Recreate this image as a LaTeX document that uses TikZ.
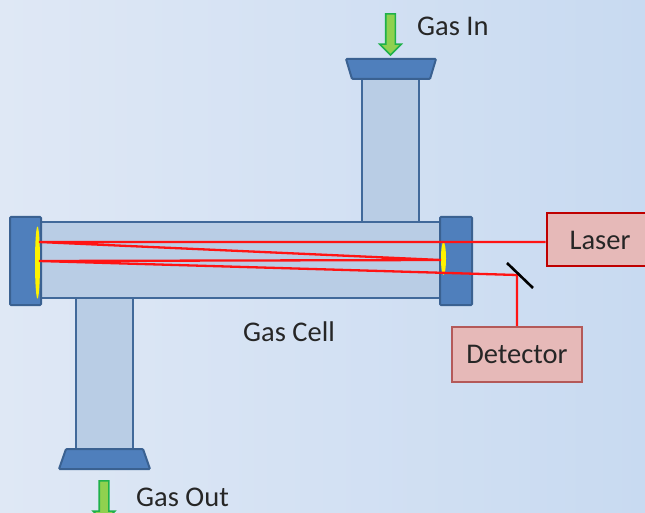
\documentclass[tikz,border=0pt]{standalone}
\usepackage{fontspec}
\setmainfont{Carlito}
\usetikzlibrary{shapes.geometric,shapes.arrows}
\definecolor{tubefill}{HTML}{B9CDE5}
\definecolor{tubeline}{HTML}{41699A}
\definecolor{flangefill}{HTML}{4F7FBC}
\definecolor{flangeline}{HTML}{3A6191}
\definecolor{boxfill}{HTML}{E6B9B8}
\definecolor{bgleft}{HTML}{DFE8F5}
\definecolor{bgright}{HTML}{C8DAF1}
\definecolor{flowfill}{HTML}{8FD14F}
\definecolor{flowline}{HTML}{1FB14A}
\begin{document}
\begin{tikzpicture}[x=1pt,y=-1pt,
	box/.style={rectangle,inner sep=0pt,line width=2pt,minimum width=#1},
	tube/.style={box=#1,draw=tubeline,fill=tubefill},
	flange/.style={box=#1,draw=flangeline,fill=flangefill,rounded corners=1pt},
	lip/.style={draw=flangeline,fill=flangefill,line width=2pt,rounded corners=1pt},
	mirror/.style={ellipse,inner sep=0pt,fill=yellow,minimum width=5pt},
	beam/.style={draw=red!92!white,line width=2.3pt},
	label/.style={font=\fontsize{28.5}{32}\selectfont,text=black!85,inner sep=0pt},
	flow/.style={single arrow,inner sep=0pt,text height=8pt,text depth=0pt,draw=flowline,fill=flowfill,line width=1.6pt,minimum width=20pt,minimum height=41pt,single arrow head extend=6pt,single arrow tip angle=90,rotate=-90}
]
\path[use as bounding box,clip] (0,0) rectangle (645,513);
\fill[left color=bgleft,right color=bgright] (0,0) rectangle (645,513);

\node[tube=57pt,minimum height=145pt] (tubein) at (390.5,150) {};
\node[tube=57pt,minimum height=154pt] (tubeout) at (104.5,374) {};
\node[tube=404pt,minimum height=76pt] (cell) at (240,260) {};
\node[flange=31pt,minimum height=88pt] (flangeL) at (25.5,261) {};
\node[flange=32pt,minimum height=88pt] (flangeR) at (456,261) {};
\draw[lip] (346,59) -- (436,59) -- (430,79) -- (352,79) -- cycle;
\draw[lip] (66,449) -- (143,449) -- (150,469) -- (59,469) -- cycle;
\node[mirror,minimum height=72pt] (mirrorL) at (37.5,262.5) {};
\node[mirror,minimum height=33pt] (mirrorR) at (443.5,258.5) {};

\node[box=106pt,line width=2.6pt,draw=red!75!black,fill=boxfill,minimum height=53pt] (laser) at (600,239.5) {};
\node[label] at (600,240) {Laser};
\node[box=130pt,line width=2.4pt,draw=red!55!black!65,fill=boxfill,minimum height=55pt] (detector) at (517,354.5) {};
\node[label] at (detector.center) {Detector};

\coordinate (hitA) at (39,242);
\coordinate (hitB) at (441,260);
\coordinate (hitC) at (39,261);
\coordinate (turn) at (517,275);
\draw[beam] (laser.west |- hitA) -- (hitA) -- (hitB) -- (hitC) -- (turn) -- (turn |- detector.north);
\coordinate (splitA) at (507,263);
\coordinate (splitB) at (533,288);
\draw[line width=2.6pt,black] (splitA) -- (splitB);

\node[label] at (289,332) {Gas Cell};
\node[flow] (arrowin) at (390.5,32) {};
\node[label,anchor=west] at (417,26) {Gas In};
\node[flow] (arrowout) at (104,499) {};
\node[label,anchor=west] at (136,497) {Gas Out};
\end{tikzpicture}
\end{document}
